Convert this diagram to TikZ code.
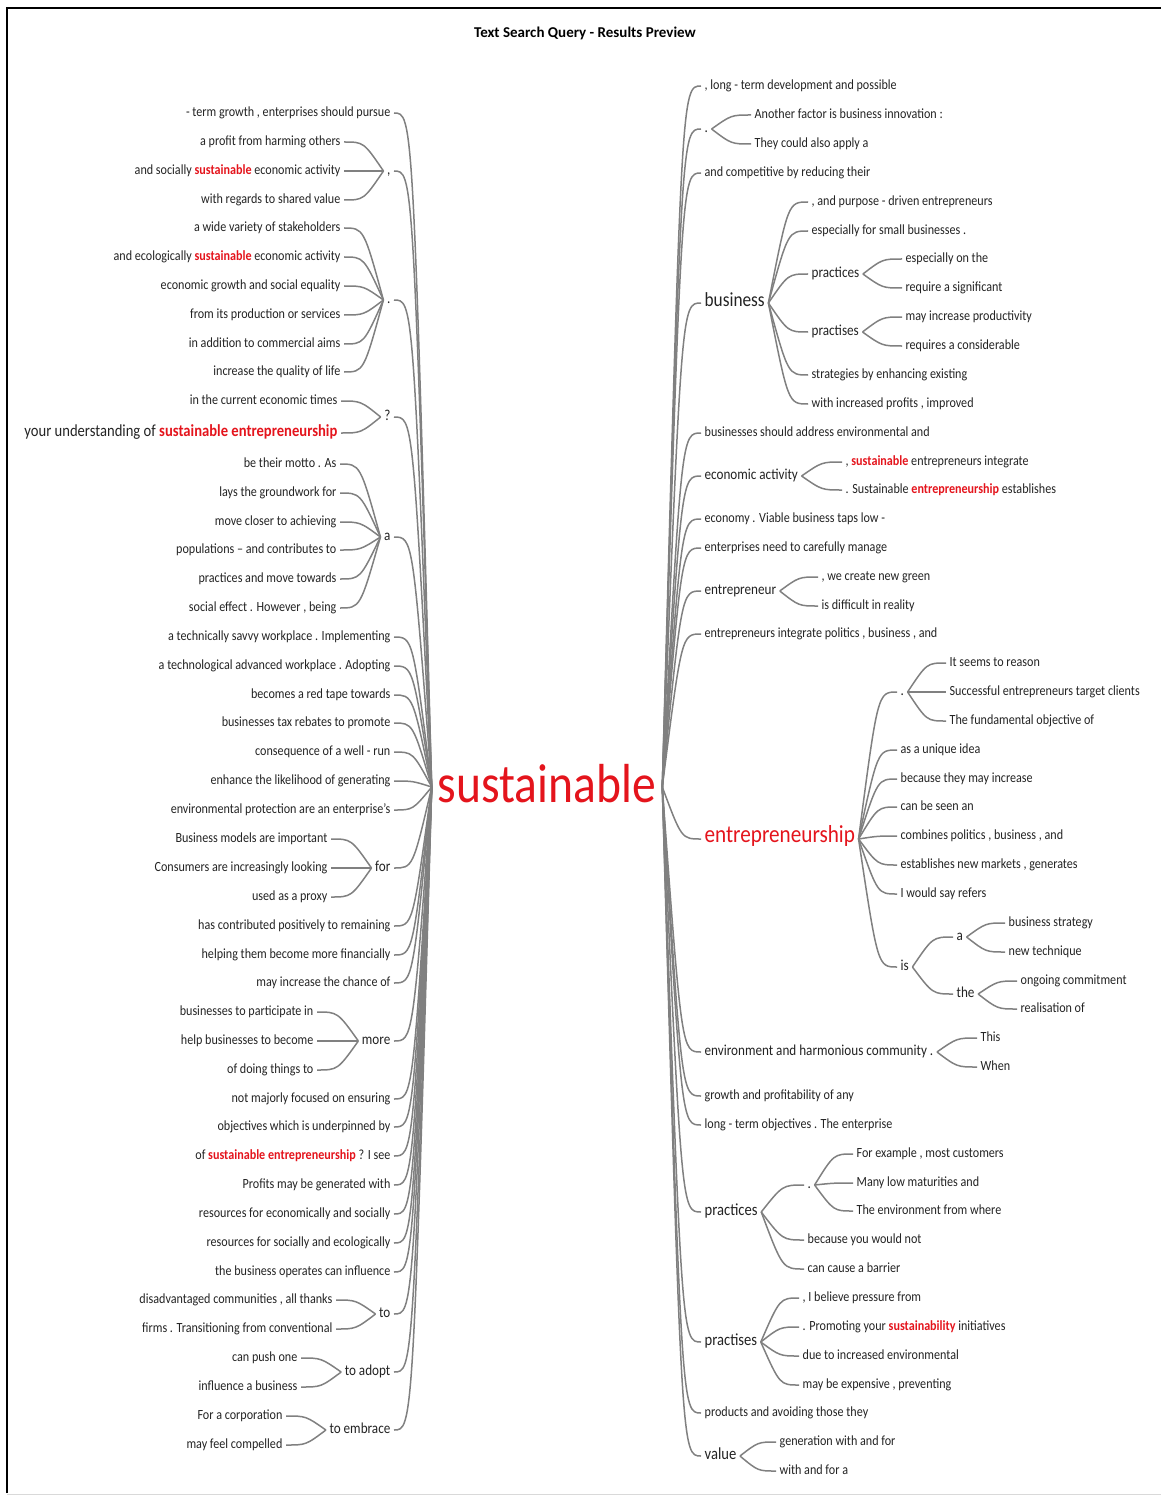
\documentclass[tikz,border=0pt]{standalone}
\usepackage{fontspec}
\setmainfont{Carlito}
\usetikzlibrary{calc}

\definecolor{inkgray}{RGB}{35,35,35}
\definecolor{twiggray}{RGB}{128,128,128}
\definecolor{hitred}{RGB}{228,20,28}

\tikzset{
  word/.style={text=inkgray, font=\fontsize{14}{16}\selectfont, xscale=.865, inner xsep=4pt, inner ysep=1pt},
  wordL/.style={word, anchor=mid east},
  wordR/.style={word, anchor=mid west},
  midsize/.style={font=\fontsize{15.2}{18}\selectfont},
  bigsize/.style={font=\fontsize{16.9}{19}\selectfont},
  twig/.style={draw=twiggray, line width=1.5pt},
}
\newcommand{\hit}[1]{\textcolor{hitred}{\textbf{#1}}}
\newcommand{\twig}[2]{\draw[twig] (#1) .. controls ($(#1 |- #2)!.5!(#2)$) .. (#2);}

\begin{document}
\fontsize{14}{16}\selectfont
\begin{tikzpicture}[x=1pt, y=-1pt]
    \useasboundingbox (0,0) rectangle (1161,1495);
    \draw[black, line width=1.5pt] (7,1493) -- (7,8) -- (1161,8);
    \draw[black!15, line width=1pt] (7,1494) -- (1161,1494);

    \node[font=\bfseries\fontsize{15}{18}\selectfont, text=black] (title) at (585,33) {Text Search Query - Results Preview};

    \begin{scope}[yshift=-2pt]
    % the search word
    \node[text=hitred, font=\fontsize{55}{60}\selectfont, xscale=.865, inner xsep=7pt, anchor=base] (root) at (547,800) {sustainable};
    \coordinate (rootL) at ($(root.base west)+(0,-15)$);
    \coordinate (rootR) at ($(root.base east)+(0,-15)$);

    % left: words before
    \node[wordL] (l01) at (394,111) {- term growth , enterprises should pursue};
    \node[wordL, midsize] (lcomma) at (394,169) {,};
    \node[wordL] (lcomma1) at (344,140) {a profit from harming others};
    \node[wordL] (lcomma2) at (344,169) {and socially \hit{sustainable} economic activity};
    \node[wordL] (lcomma3) at (344,198) {with regards to shared value};
    \node[wordL, midsize] (ldot) at (394,298) {.};
    \node[wordL] (ldot1) at (344,226) {a wide variety of stakeholders};
    \node[wordL] (ldot2) at (344,255) {and ecologically \hit{sustainable} economic activity};
    \node[wordL] (ldot3) at (344,284) {economic growth and social equality};
    \node[wordL] (ldot4) at (344,313) {from its production or services};
    \node[wordL] (ldot5) at (344,342) {in addition to commercial aims};
    \node[wordL] (ldot6) at (344,370) {increase the quality of life};
    \node[wordL, midsize] (lq) at (394,415) {?};
    \node[wordL] (lq1) at (341,399) {in the current economic times};
    \node[wordL, bigsize] (lq2) at (341,431) {your understanding of \hit{sustainable entrepreneurship}};
    \node[wordL, midsize] (la) at (394,535) {a};
    \node[wordL] (la1) at (340,462) {be their motto . As};
    \node[wordL] (la2) at (340,491) {lays the groundwork for};
    \node[wordL] (la3) at (340,520) {move closer to achieving};
    \node[wordL] (la4) at (340,548) {populations – and contributes to};
    \node[wordL] (la5) at (340,577) {practices and move towards};
    \node[wordL] (la6) at (340,606) {social effect . However , being};
    \node[wordL] (l06) at (394,635) {a technically savvy workplace . Implementing};
    \node[wordL] (l07) at (394,664) {a technological advanced workplace . Adopting};
    \node[wordL] (l08) at (394,693) {becomes a red tape towards};
    \node[wordL] (l09) at (394,721) {businesses tax rebates to promote};
    \node[wordL] (l10) at (394,750) {consequence of a well - run};
    \node[wordL] (l11) at (394,779) {enhance the likelihood of generating};
    \node[wordL] (l12) at (394,808) {environmental protection are an enterprise’s};
    \node[wordL, midsize] (lfor) at (394,866) {for};
    \node[wordL] (lfor1) at (331,837) {Business models are important};
    \node[wordL] (lfor2) at (331,866) {Consumers are increasingly looking};
    \node[wordL] (lfor3) at (331,895) {used as a proxy};
    \node[wordL] (l14) at (394,924) {has contributed positively to remaining};
    \node[wordL] (l15) at (394,953) {helping them become more financially};
    \node[wordL] (l16) at (394,981) {may increase the chance of};
    \node[wordL, midsize] (lmore) at (394,1039) {more};
    \node[wordL] (lmore1) at (317,1010) {businesses to participate in};
    \node[wordL] (lmore2) at (317,1039) {help businesses to become};
    \node[wordL] (lmore3) at (317,1068) {of doing things to};
    \node[wordL] (l18) at (394,1097) {not majorly focused on ensuring};
    \node[wordL] (l19) at (394,1125) {objectives which is underpinned by};
    \node[wordL] (l20) at (394,1154) {of \hit{sustainable entrepreneurship} ? I see};
    \node[wordL] (l21) at (394,1183) {Profits may be generated with};
    \node[wordL] (l22) at (394,1212) {resources for economically and socially};
    \node[wordL] (l23) at (394,1241) {resources for socially and ecologically};
    \node[wordL] (l24) at (394,1270) {the business operates can influence};
    \node[wordL, midsize] (lto) at (394,1312) {to};
    \node[wordL] (lto1) at (336,1298) {disadvantaged communities , all thanks};
    \node[wordL] (lto2) at (336,1327) {firms . Transitioning from conventional};
    \node[wordL, midsize] (ladopt) at (394,1370) {to adopt};
    \node[wordL] (ladopt1) at (301,1356) {can push one};
    \node[wordL] (ladopt2) at (301,1385) {influence a business};
    \node[wordL, midsize] (lembrace) at (394,1428) {to embrace};
    \node[wordL] (lembrace1) at (286,1414) {For a corporation};
    \node[wordL] (lembrace2) at (286,1443) {may feel compelled};

    % right: words after
    \node[wordR] (r01) at (701,84) {, long - term development and possible};
    \node[wordR, midsize] (rdot) at (701,127) {.};
    \node[wordR] (rdot1) at (751,113) {Another factor is business innovation :};
    \node[wordR] (rdot2) at (751,142) {They could also apply a};
    \node[wordR] (r03) at (701,171) {and competitive by reducing their};
    \node[wordR, font=\fontsize{20}{24}\selectfont] (rbusiness) at (701,301) {business};
    \node[wordR] (rb1) at (808,200) {, and purpose - driven entrepreneurs};
    \node[wordR] (rb2) at (808,229) {especially for small businesses .};
    \node[wordR, midsize] (rbpc) at (808,272) {practices};
    \node[wordR] (rbpc1) at (902,257) {especially on the};
    \node[wordR] (rbpc2) at (902,286) {require a significant};
    \node[wordR, midsize] (rbps) at (808,330) {practises};
    \node[wordR] (rbps1) at (902,315) {may increase productivity};
    \node[wordR] (rbps2) at (902,344) {requires a considerable};
    \node[wordR] (rb5) at (808,373) {strategies by enhancing existing};
    \node[wordR] (rb6) at (808,402) {with increased profits , improved};
    \node[wordR] (r05) at (701,431) {businesses should address environmental and};
    \node[wordR, midsize] (recon) at (701,474) {economic activity};
    \node[wordR] (recon1) at (842,460) {, \hit{sustainable} entrepreneurs integrate};
    \node[wordR] (recon2) at (842,488) {. Sustainable \hit{entrepreneurship} establishes};
    \node[wordR] (r07) at (701,517) {economy . Viable business taps low -};
    \node[wordR] (r08) at (701,546) {enterprises need to carefully manage};
    \node[wordR, midsize] (rentr) at (701,589) {entrepreneur};
    \node[wordR] (rentr1) at (818,575) {, we create new green};
    \node[wordR] (rentr2) at (818,604) {is difficult in reality};
    \node[wordR] (r10) at (701,632) {entrepreneurs integrate politics , business , and};
    \node[wordR, text=hitred, font=\fontsize{24.5}{28}\selectfont] (rship) at (701,837) {entrepreneurship};
    \node[wordR, midsize] (rsdot) at (897,690) {.};
    \node[wordR] (rsdot1) at (946,661) {It seems to reason};
    \node[wordR] (rsdot2) at (946,690) {Successful entrepreneurs target clients};
    \node[wordR] (rsdot3) at (946,719) {The fundamental objective of};
    \node[wordR] (rs2) at (897,748) {as a unique idea};
    \node[wordR] (rs3) at (897,777) {because they may increase};
    \node[wordR] (rs4) at (897,805) {can be seen an};
    \node[wordR] (rs5) at (897,834) {combines politics , business , and};
    \node[wordR] (rs6) at (897,863) {establishes new markets , generates};
    \node[wordR] (rs7) at (897,892) {I would say refers};
    \node[wordR, midsize] (rsis) at (897,965) {is};
    \node[wordR, midsize] (rsa) at (953,935) {a};
    \node[wordR] (rsa1) at (1005,921) {business strategy};
    \node[wordR] (rsa2) at (1005,950) {new technique};
    \node[wordR, midsize] (rsthe) at (953,992) {the};
    \node[wordR] (rsthe1) at (1017,979) {ongoing commitment};
    \node[wordR] (rsthe2) at (1017,1007) {realisation of};
    \node[wordR, midsize] (renv) at (701,1050) {environment and harmonious community .};
    \node[wordR] (renv1) at (977,1036) {This};
    \node[wordR] (renv2) at (977,1065) {When};
    \node[wordR] (r13) at (701,1094) {growth and profitability of any};
    \node[wordR] (r14) at (701,1123) {long - term objectives . The enterprise};
    \node[wordR, bigsize] (rprac) at (701,1210) {practices};
    \node[wordR, midsize] (rpdot) at (804,1183) {.};
    \node[wordR] (rpdot1) at (853,1152) {For example , most customers};
    \node[wordR] (rpdot2) at (853,1181) {Many low maturities and};
    \node[wordR] (rpdot3) at (853,1209) {The environment from where};
    \node[wordR] (rp2) at (804,1238) {because you would not};
    \node[wordR] (rp3) at (804,1267) {can cause a barrier};
    \node[wordR, bigsize] (rpras) at (701,1340) {practises};
    \node[wordR] (rpr1) at (799,1296) {, I believe pressure from};
    \node[wordR] (rpr2) at (799,1325) {. Promoting your \hit{sustainability} initiatives};
    \node[wordR] (rpr3) at (799,1354) {due to increased environmental};
    \node[wordR] (rpr4) at (799,1383) {may be expensive , preventing};
    \node[wordR] (r17) at (701,1411) {products and avoiding those they};
    \node[wordR, bigsize] (rvalue) at (701,1454) {value};
    \node[wordR] (rv1) at (776,1440) {generation with and for};
    \node[wordR] (rv2) at (776,1469) {with and for a};

    % left branches
    \twig{rootL}{l01.mid east}
    \twig{rootL}{lcomma.mid east}
    \twig{lcomma.mid west}{lcomma1.mid east}
    \twig{lcomma.mid west}{lcomma2.mid east}
    \twig{lcomma.mid west}{lcomma3.mid east}
    \twig{rootL}{ldot.mid east}
    \twig{ldot.mid west}{ldot1.mid east}
    \twig{ldot.mid west}{ldot2.mid east}
    \twig{ldot.mid west}{ldot3.mid east}
    \twig{ldot.mid west}{ldot4.mid east}
    \twig{ldot.mid west}{ldot5.mid east}
    \twig{ldot.mid west}{ldot6.mid east}
    \twig{rootL}{lq.mid east}
    \twig{lq.mid west}{lq1.mid east}
    \twig{lq.mid west}{lq2.mid east}
    \twig{rootL}{la.mid east}
    \twig{la.mid west}{la1.mid east}
    \twig{la.mid west}{la2.mid east}
    \twig{la.mid west}{la3.mid east}
    \twig{la.mid west}{la4.mid east}
    \twig{la.mid west}{la5.mid east}
    \twig{la.mid west}{la6.mid east}
    \twig{rootL}{l06.mid east}
    \twig{rootL}{l07.mid east}
    \twig{rootL}{l08.mid east}
    \twig{rootL}{l09.mid east}
    \twig{rootL}{l10.mid east}
    \twig{rootL}{l11.mid east}
    \twig{rootL}{l12.mid east}
    \twig{rootL}{lfor.mid east}
    \twig{lfor.mid west}{lfor1.mid east}
    \twig{lfor.mid west}{lfor2.mid east}
    \twig{lfor.mid west}{lfor3.mid east}
    \twig{rootL}{l14.mid east}
    \twig{rootL}{l15.mid east}
    \twig{rootL}{l16.mid east}
    \twig{rootL}{lmore.mid east}
    \twig{lmore.mid west}{lmore1.mid east}
    \twig{lmore.mid west}{lmore2.mid east}
    \twig{lmore.mid west}{lmore3.mid east}
    \twig{rootL}{l18.mid east}
    \twig{rootL}{l19.mid east}
    \twig{rootL}{l20.mid east}
    \twig{rootL}{l21.mid east}
    \twig{rootL}{l22.mid east}
    \twig{rootL}{l23.mid east}
    \twig{rootL}{l24.mid east}
    \twig{rootL}{lto.mid east}
    \twig{lto.mid west}{lto1.mid east}
    \twig{lto.mid west}{lto2.mid east}
    \twig{rootL}{ladopt.mid east}
    \twig{ladopt.mid west}{ladopt1.mid east}
    \twig{ladopt.mid west}{ladopt2.mid east}
    \twig{rootL}{lembrace.mid east}
    \twig{lembrace.mid west}{lembrace1.mid east}
    \twig{lembrace.mid west}{lembrace2.mid east}

    % right branches
    \twig{rootR}{r01.mid west}
    \twig{rootR}{rdot.mid west}
    \twig{rdot.mid east}{rdot1.mid west}
    \twig{rdot.mid east}{rdot2.mid west}
    \twig{rootR}{r03.mid west}
    \twig{rootR}{rbusiness.mid west}
    \twig{rbusiness.mid east}{rb1.mid west}
    \twig{rbusiness.mid east}{rb2.mid west}
    \twig{rbusiness.mid east}{rbpc.mid west}
    \twig{rbpc.mid east}{rbpc1.mid west}
    \twig{rbpc.mid east}{rbpc2.mid west}
    \twig{rbusiness.mid east}{rbps.mid west}
    \twig{rbps.mid east}{rbps1.mid west}
    \twig{rbps.mid east}{rbps2.mid west}
    \twig{rbusiness.mid east}{rb5.mid west}
    \twig{rbusiness.mid east}{rb6.mid west}
    \twig{rootR}{r05.mid west}
    \twig{rootR}{recon.mid west}
    \twig{recon.mid east}{recon1.mid west}
    \twig{recon.mid east}{recon2.mid west}
    \twig{rootR}{r07.mid west}
    \twig{rootR}{r08.mid west}
    \twig{rootR}{rentr.mid west}
    \twig{rentr.mid east}{rentr1.mid west}
    \twig{rentr.mid east}{rentr2.mid west}
    \twig{rootR}{r10.mid west}
    \twig{rootR}{rship.mid west}
    \twig{rship.mid east}{rsdot.mid west}
    \twig{rsdot.mid east}{rsdot1.mid west}
    \twig{rsdot.mid east}{rsdot2.mid west}
    \twig{rsdot.mid east}{rsdot3.mid west}
    \twig{rship.mid east}{rs2.mid west}
    \twig{rship.mid east}{rs3.mid west}
    \twig{rship.mid east}{rs4.mid west}
    \twig{rship.mid east}{rs5.mid west}
    \twig{rship.mid east}{rs6.mid west}
    \twig{rship.mid east}{rs7.mid west}
    \twig{rship.mid east}{rsis.mid west}
    \twig{rsis.mid east}{rsa.mid west}
    \twig{rsa.mid east}{rsa1.mid west}
    \twig{rsa.mid east}{rsa2.mid west}
    \twig{rsis.mid east}{rsthe.mid west}
    \twig{rsthe.mid east}{rsthe1.mid west}
    \twig{rsthe.mid east}{rsthe2.mid west}
    \twig{rootR}{renv.mid west}
    \twig{renv.mid east}{renv1.mid west}
    \twig{renv.mid east}{renv2.mid west}
    \twig{rootR}{r13.mid west}
    \twig{rootR}{r14.mid west}
    \twig{rootR}{rprac.mid west}
    \twig{rprac.mid east}{rpdot.mid west}
    \twig{rpdot.mid east}{rpdot1.mid west}
    \twig{rpdot.mid east}{rpdot2.mid west}
    \twig{rpdot.mid east}{rpdot3.mid west}
    \twig{rprac.mid east}{rp2.mid west}
    \twig{rprac.mid east}{rp3.mid west}
    \twig{rootR}{rpras.mid west}
    \twig{rpras.mid east}{rpr1.mid west}
    \twig{rpras.mid east}{rpr2.mid west}
    \twig{rpras.mid east}{rpr3.mid west}
    \twig{rpras.mid east}{rpr4.mid west}
    \twig{rootR}{r17.mid west}
    \twig{rootR}{rvalue.mid west}
    \twig{rvalue.mid east}{rv1.mid west}
    \twig{rvalue.mid east}{rv2.mid west}
    \end{scope}
\end{tikzpicture}
\end{document}
